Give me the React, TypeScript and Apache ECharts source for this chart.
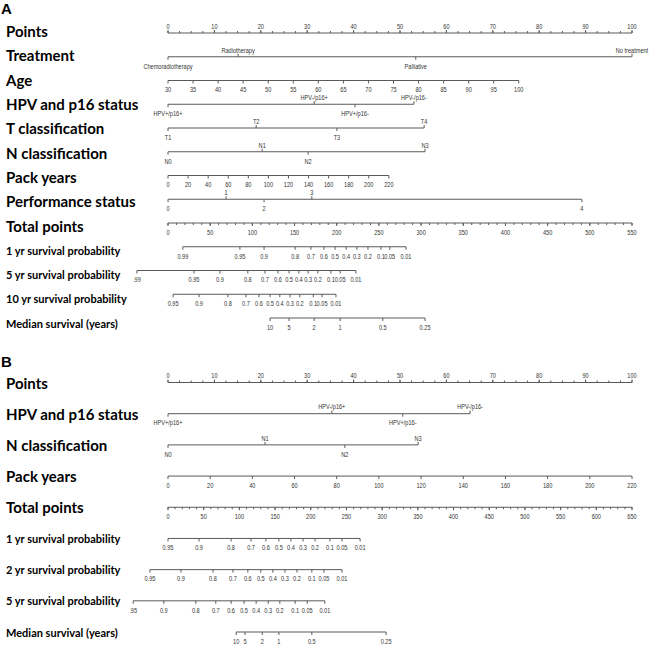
import React, { useEffect, useRef } from "react";
import * as echarts from "echarts";

// ---------------- Panel A data ----------------
const pointsTicks = [0, 10, 20, 30, 40, 50, 60, 70, 80, 90, 100];

const treatmentLevels = ["Chemoradiotherapy", "Radiotherapy", "Palliative", "No treatment"];
const treatmentPoints = [0, 15.1, 53.4, 100];

const ageTicks = [30, 35, 40, 45, 50, 55, 60, 65, 70, 75, 80, 85, 90, 95, 100];
const ageScalePoints = [0, 75.6]; // points at age 30 and age 100

const hpvLevels = ["HPV+/p16+", "HPV-/p16+", "HPV+/p16-", "HPV-/p16-"];
const hpvPointsA = [0, 31.5, 40.3, 53.0];

const tLevels = ["T1", "T2", "T3", "T4"];
const tPointsA = [0, 19.0, 36.4, 55.2];

const nLevels = ["N0", "N1", "N2", "N3"];
const nPointsA = [0, 20.3, 30.2, 55.4];

const packTicks = [0, 20, 40, 60, 80, 100, 120, 140, 160, 180, 200, 220];
const packScalePointsA = [0, 47.6]; // points at 0 and 220 pack years

const perfLevels = ["0", "1", "2", "3", "4"];
const perfPointsA = [0, 12.5, 20.7, 31.0, 89.2];

const totalTicksA = [0, 50, 100, 150, 200, 250, 300, 350, 400, 450, 500, 550];

const surv1LabelsA = ["0.99", "0.95", "0.9", "0.8", "0.7", "0.6", "0.5", "0.4", "0.3", "0.2", "0.1", "0.05", "0.01"];
const surv1PointsA = [3.2, 15.5, 20.7, 27.4, 30.8, 33.6, 36.0, 38.4, 40.7, 43.1, 45.9, 47.8, 51.3];

const surv5LabelsA = [".99", "0.95", "0.9", "0.8", "0.7", "0.6", "0.5", "0.4", "0.3", "0.2", "0.1", "0.05", "0.01"];
const surv5PointsA = [-6.7, 5.6, 11.2, 17.2, 20.9, 23.7, 26.1, 28.2, 30.2, 32.3, 35.1, 37.1, 40.5];

const surv10LabelsA = ["0.95", "0.9", "0.8", "0.7", "0.6", "0.5", "0.4", "0.3", "0.2", "0.1", "0.05", "0.01"];
const surv10PointsA = [1.1, 6.7, 12.9, 16.8, 19.6, 22.0, 24.1, 26.3, 28.4, 31.3, 33.2, 36.2];

const medianLabels = ["10", "5", "2", "1", "0.5", "0.25"];
const medianPointsA = [22.0, 26.1, 31.5, 37.1, 46.3, 55.4];

// ---------------- Panel B data ----------------
const hpvPointsB = [0, 35.3, 50.6, 65.1];
const nPointsB = [0, 20.9, 38.1, 53.9];
const packScalePointsB = [0, 100];
const totalTicksB = [0, 50, 100, 150, 200, 250, 300, 350, 400, 450, 500, 550, 600, 650];

const survLabelsB = ["0.95", "0.9", "0.8", "0.7", "0.6", "0.5", "0.4", "0.3", "0.2", "0.1", "0.05", "0.01"];
const surv5LabelsB = [".95", "0.9", "0.8", "0.7", "0.6", "0.5", "0.4", "0.3", "0.2", "0.1", "0.05", "0.01"];
const surv1PointsB = [0, 6.7, 13.6, 17.9, 21.1, 23.9, 26.5, 29.1, 31.7, 34.9, 37.5, 41.4];
const surv2PointsB = [-3.9, 2.8, 9.7, 14.0, 17.2, 20.0, 22.6, 25.2, 27.8, 31.0, 33.6, 37.5];
const surv5PointsB = [-7.5, -0.9, 6.0, 10.3, 13.6, 16.4, 19.0, 21.6, 24.1, 27.4, 30.0, 33.8];
const medianPointsB = [14.7, 16.6, 20.3, 23.9, 31.0, 47.0];

// ---------------- row construction ----------------
type Tick = { pos: number; label: string };
type Row = {
  name: string;
  ticks: Tick[];
  side: "above" | "below" | "alt";
  minor: number[];
};

const linear = (vals: number[], pts: number[]): Tick[] => {
  const v0 = vals[0];
  const v1 = vals[vals.length - 1];
  return vals.map((v) => ({ pos: pts[0] + ((v - v0) * (pts[1] - pts[0])) / (v1 - v0), label: String(v) }));
};
const paired = (labels: string[], pts: number[]): Tick[] => labels.map((l, i) => ({ pos: pts[i], label: l }));
const minorTicks = (from: number, to: number, step: number, scale: number) => {
  const out: number[] = [];
  for (let v = from; v <= to + 1e-9; v += step) out.push(v * scale);
  return out;
};

const rowsA: Row[] = [
  { name: "Points", ticks: linear(pointsTicks, [0, 100]), side: "above", minor: minorTicks(0, 100, 2.5, 1) },
  { name: "Treatment", ticks: paired(treatmentLevels, treatmentPoints), side: "alt", minor: [] },
  { name: "Age", ticks: linear(ageTicks, ageScalePoints), side: "below", minor: [] },
  { name: "HPV and p16 status", ticks: paired(hpvLevels, hpvPointsA), side: "alt", minor: [] },
  { name: "T classification", ticks: paired(tLevels, tPointsA), side: "alt", minor: [] },
  { name: "N classification", ticks: paired(nLevels, nPointsA), side: "alt", minor: [] },
  { name: "Pack years", ticks: linear(packTicks, packScalePointsA), side: "below", minor: [] },
  { name: "Performance status", ticks: paired(perfLevels, perfPointsA), side: "alt", minor: [] },
  { name: "Total points", ticks: linear(totalTicksA, [0, 100]), side: "below", minor: minorTicks(0, 550, 10, 100 / 550) },
  { name: "1 yr survival probability", ticks: paired(surv1LabelsA, surv1PointsA), side: "below", minor: [] },
  { name: "5 yr survival probability", ticks: paired(surv5LabelsA, surv5PointsA), side: "below", minor: [] },
  { name: "10 yr survival probability", ticks: paired(surv10LabelsA, surv10PointsA), side: "below", minor: [] },
  { name: "Median survival (years)", ticks: paired(medianLabels, medianPointsA), side: "below", minor: [] },
];

const rowsB: Row[] = [
  { name: "Points", ticks: linear(pointsTicks, [0, 100]), side: "above", minor: minorTicks(0, 100, 2.5, 1) },
  { name: "HPV and p16 status", ticks: paired(hpvLevels, hpvPointsB), side: "alt", minor: [] },
  { name: "N classification", ticks: paired(nLevels, nPointsB), side: "alt", minor: [] },
  { name: "Pack years", ticks: linear(packTicks, packScalePointsB), side: "below", minor: [] },
  { name: "Total points", ticks: linear(totalTicksB, [0, 100]), side: "below", minor: minorTicks(0, 650, 10, 100 / 650) },
  { name: "1 yr survival probability", ticks: paired(survLabelsB, surv1PointsB), side: "below", minor: [] },
  { name: "2 yr survival probability", ticks: paired(survLabelsB, surv2PointsB), side: "below", minor: [] },
  { name: "5 yr survival probability", ticks: paired(surv5LabelsB, surv5PointsB), side: "below", minor: [] },
  { name: "Median survival (years)", ticks: paired(medianLabels, medianPointsB), side: "below", minor: [] },
];

const smallTitles = new Set([
  "1 yr survival probability",
  "2 yr survival probability",
  "5 yr survival probability",
  "10 yr survival probability",
  "Median survival (years)",
]);

const LINE = "#5a5a5a";
const TICKTXT = "#333";
const TICKFONT = "'Liberation Sans', Arial, sans-serif";
const TITLEFONT = "Lato, 'Open Sans', sans-serif";

function makeRender(rows: Row[]) {
  return (params: any, api: any) => {
    const idx = params.dataIndex;
    const row = rows[idx];
    const ps = row.ticks.map((t) => t.pos);
    const from = Math.min(...ps);
    const to = Math.max(...ps);
    const [xs, y] = api.coord([from, idx]);
    const [xe] = api.coord([to, idx]);
    const children: any[] = [
      { type: "line", shape: { x1: xs, y1: y, x2: xe, y2: y }, style: { stroke: LINE, lineWidth: 1 } },
    ];
    const minorDir = row.side === "above" ? -1 : 1;
    row.minor.forEach((p) => {
      const [x] = api.coord([p, idx]);
      children.push({
        type: "line",
        shape: { x1: x, y1: y, x2: x, y2: y + minorDir * 2 },
        style: { stroke: LINE, lineWidth: 1 },
      });
    });
    row.ticks.forEach((t, k) => {
      const side = row.side === "alt" ? (k % 2 === 0 ? "below" : "above") : row.side;
      const dir = side === "above" ? -1 : 1;
      const [x] = api.coord([t.pos, idx]);
      children.push({
        type: "line",
        shape: { x1: x, y1: y, x2: x, y2: y + dir * 3 },
        style: { stroke: LINE, lineWidth: 1 },
      });
      children.push({
        type: "text",
        x,
        y: y + (side === "above" ? -7 : 9),
        scaleX: 0.8,
        style: {
          text: t.label,
          align: "center",
          verticalAlign: "middle",
          fontSize: 7,
          fontFamily: TICKFONT,
          fill: TICKTXT,
        },
      });
    });
    return { type: "group", children };
  };
}

export default function App() {
  const ref = useRef<HTMLDivElement>(null);
  useEffect(() => {
    document.body.style.margin = "0";
    if (!ref.current) return;
    const chart = echarts.init(ref.current, undefined, { renderer: "svg" });

    const hiddenY = (gridIndex: number, rows: Row[]) => ({
      type: "category",
      gridIndex,
      data: rows.map((r) => r.name),
      inverse: true,
      boundaryGap: false,
      axisLine: { show: false },
      axisTick: { show: false },
      axisLabel: { show: false },
      splitLine: { show: false },
    });
    const titleY = (gridIndex: number, rows: Row[]) => ({
      type: "category",
      gridIndex,
      data: rows.map((r) => r.name),
      inverse: true,
      boundaryGap: false,
      axisLine: { show: false },
      axisTick: { show: false },
      splitLine: { show: false },
      axisLabel: {
        show: true,
        interval: 0,
        align: "left",
        margin: 162,
        formatter: (v: string) => (smallTitles.has(v) ? `{s|${v}}` : `{b|${v}}`),
        rich: {
          b: { fontSize: 15, fontWeight: "bold", fontFamily: TITLEFONT, color: "#000" },
          s: { fontSize: 11, fontWeight: "bold", fontFamily: TITLEFONT, color: "#000" },
        },
      },
    });
    const hiddenX = (gridIndex: number) => ({
      type: "value",
      gridIndex,
      min: 0,
      max: 100,
      show: false,
      splitLine: { show: false },
    });

    chart.setOption({
      animation: false,
      backgroundColor: "#fff",
      grid: [
        { left: 168, right: 18, top: 33, height: 285 },
        { left: 168, right: 18, top: 31, height: 292 },
        { left: 168, right: 18, top: 382.5, height: 249.5 },
        { left: 168, right: 18, top: 382.5, height: 249.5 },
      ],
      xAxis: [hiddenX(0), hiddenX(1), hiddenX(2), hiddenX(3)],
      yAxis: [hiddenY(0, rowsA), titleY(1, rowsA), hiddenY(2, rowsB), titleY(3, rowsB)],
      graphic: [
        { type: "text", left: 1, top: 1, style: { text: "A", font: "bold 15px 'Liberation Sans', Arial", fill: "#000" } },
        { type: "text", left: 1, top: 354, style: { text: "B", font: "bold 15px 'Liberation Sans', Arial", fill: "#000" } },
      ],
      series: [
        {
          type: "custom",
          xAxisIndex: 0,
          yAxisIndex: 0,
          clip: false,
          renderItem: makeRender(rowsA),
          encode: { x: 0, y: 1 },
          data: rowsA.map((r, i) => [r.ticks[0].pos, i]),
        },
        {
          type: "custom",
          xAxisIndex: 2,
          yAxisIndex: 2,
          clip: false,
          renderItem: makeRender(rowsB),
          encode: { x: 0, y: 1 },
          data: rowsB.map((r, i) => [r.ticks[0].pos, i]),
        },
      ],
    });
    return () => chart.dispose();
  }, []);
  return <div ref={ref} style={{ width: 650, height: 648 }} />;
}
